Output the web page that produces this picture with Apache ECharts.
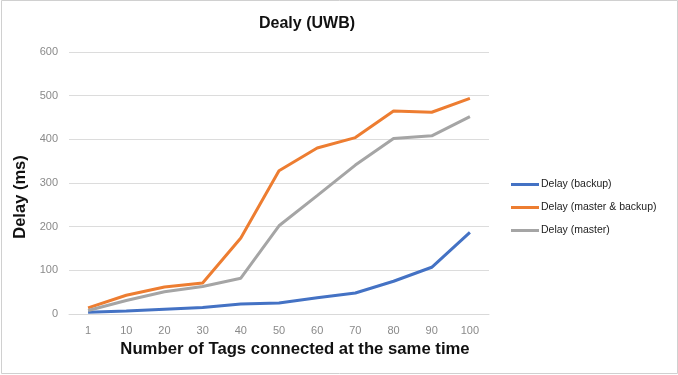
<!DOCTYPE html>
<html><head><meta charset="utf-8">
<script src="https://cdn.jsdelivr.net/npm/echarts@6/dist/echarts.min.js"></script>
<style>html,body{margin:0;padding:0;background:#fff}#c{width:678px;height:375px}</style>
</head><body><div id="c"></div>
<script>
const categories = ['1','10','20','30','40','50','60','70','80','90','100'];
const backup = [4,7,11,15,23,25,37,48,75,107,187];
const masterBackup = [14,43,62,71,174,328,380,404,465,462,494];
const master = [8,31,51,63,82,202,271,341,402,408,452];
const seriesNames = ['Delay (backup)','Delay (master & backup)','Delay (master)'];
const colors = ['#4472c4','#ed7d31','#a5a5a5'];

const chart = echarts.init(document.getElementById('c'));
const mk = (name, data, color) => ({
  name, type:'line', data, symbol:'none', smooth:false,
  lineStyle:{color, width:3}, itemStyle:{color}
});
chart.setOption({
  animation:false,
  backgroundColor:'#fff',
  title:{text:'Dealy (UWB)', left:254, top:11,
    textStyle:{fontFamily:'Liberation Sans', fontSize:16, fontWeight:'bold', color:'#111'}},
  legend:{orient:'vertical', left:506, top:174, itemGap:12, itemWidth:28, itemHeight:3,
    icon:'rect', data:seriesNames,
    textStyle:{fontFamily:'Liberation Sans', fontSize:10.5, color:'#222', padding:[0,0,0,-3]}},
  grid:{left:69, right:189, top:52, bottom:61, containLabel:false},
  xAxis:{type:'category', data:categories, boundaryGap:true,
    name:'Number of Tags connected at the same time', nameLocation:'middle', nameGap:22,
    nameTextStyle:{fontFamily:'Liberation Sans', fontSize:16.7, fontWeight:'bold', color:'#111', padding:[0,0,0,32]},
    axisLine:{show:true, lineStyle:{color:'#d9d9d9'}}, axisTick:{show:false},
    axisLabel:{color:'#8a8a8a', fontSize:11, fontFamily:'Liberation Sans', margin:11}},
  yAxis:{type:'value', min:0, max:600, interval:100,
    name:'Delay (ms)', nameLocation:'middle', nameGap:29, nameRotate:90,
    nameTextStyle:{fontFamily:'Liberation Sans', fontSize:16.5, fontWeight:'bold', color:'#111', padding:[0,28,0,0]},
    axisLine:{show:false}, axisTick:{show:false},
    axisLabel:{color:'#8a8a8a', fontSize:11, fontFamily:'Liberation Sans', margin:11},
    splitLine:{lineStyle:{color:'#dcdcdc', width:1}}},
  series:[mk(seriesNames[0], backup, colors[0]), mk(seriesNames[1], masterBackup, colors[1]), mk(seriesNames[2], master, colors[2])],
  graphic:[{type:'rect', shape:{x:1.5,y:0.5,width:676,height:373}, style:{fill:'none', stroke:'#d0d0d0', lineWidth:1}, silent:true}]
});
</script></body></html>
